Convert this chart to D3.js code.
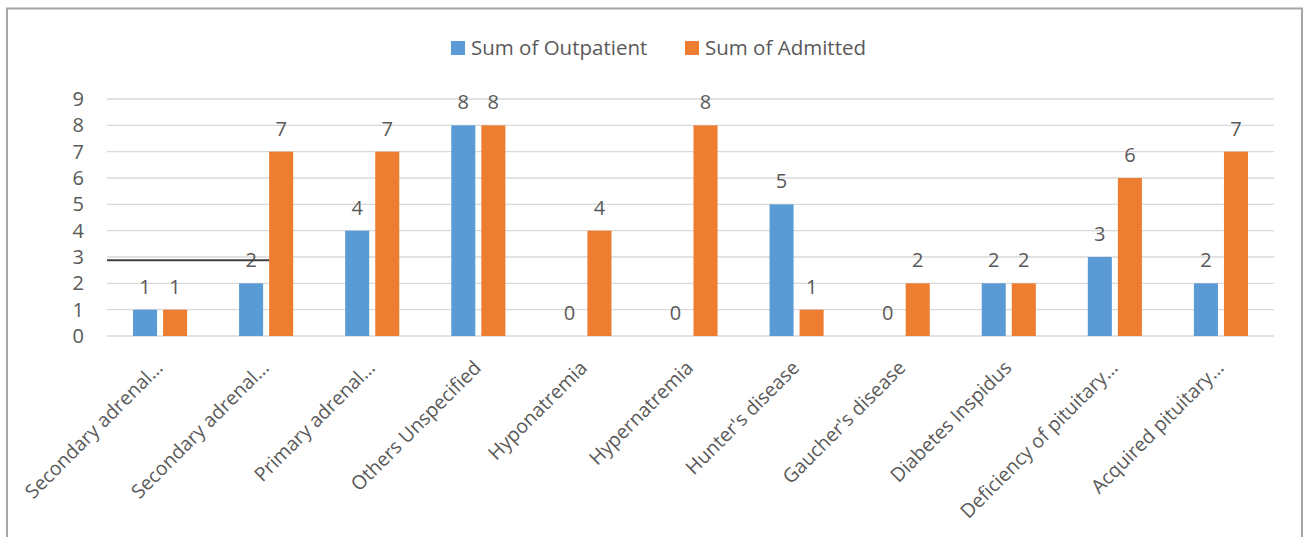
<!DOCTYPE html>
<html>
<head>
<meta charset="utf-8">
<script src="https://cdn.jsdelivr.net/npm/d3@7/dist/d3.min.js"></script>
<style>
  html, body { margin: 0; padding: 0; background: #fff; }
  svg { display: block; }
  text { font-family: "Open Sans", "Liberation Sans", sans-serif; fill: #595959; }
</style>
</head>
<body>
<svg id="chart" width="1305" height="537"></svg>
<script>
// ---- data ----
const categories = [
  "Secondary adrenal\u2026",
  "Secondary adrenal\u2026",
  "Primary adrenal\u2026",
  "Others Unspecified",
  "Hyponatremia",
  "Hypernatremia",
  "Hunter's disease",
  "Gaucher's disease",
  "Diabetes Inspidus",
  "Deficiency of pituitary\u2026",
  "Acquired pituitary\u2026"
];
const seriesNames = ["Sum of Outpatient", "Sum of Admitted"];
const outpatient = [1, 2, 4, 8, 0, 0, 5, 0, 2, 3, 2];
const admitted   = [1, 7, 7, 8, 4, 8, 1, 2, 2, 6, 7];
const yTicks = [0, 1, 2, 3, 4, 5, 6, 7, 8, 9];
const colors = ["#5b9bd5", "#ed7d31"];
// stray annotation line in the source picture (value level, from first category to second category's orange bar)
const strayLineValue = 2.88;

// ---- layout ----
const svg = d3.select("#chart");
const plot = { left: 107, right: 1274, top: 99, bottom: 336 };

const keys = categories.map((c, i) => i);
const x0 = d3.scaleBand().domain(keys).range([plot.left, plot.right])
  .paddingInner(0.49).paddingOuter(0.245);
const x1 = d3.scaleBand().domain([0, 1]).range([0, x0.bandwidth()]).paddingInner(0.2);
const y = d3.scaleLinear().domain([0, 9]).range([plot.bottom, plot.top]);

// frame
svg.append("rect").attr("x", 7).attr("y", 8.5).attr("width", 1295).attr("height", 540)
  .attr("fill", "none").attr("stroke", "#a6a6a6").attr("stroke-width", 2);

// gridlines
svg.append("g").selectAll("line").data(yTicks).join("line")
  .attr("x1", plot.left).attr("x2", plot.right)
  .attr("y1", d => y(d)).attr("y2", d => y(d))
  .attr("stroke", "#d9d9d9").attr("stroke-width", 1.4);

// y tick labels
svg.append("g").selectAll("text").data(yTicks).join("text")
  .attr("x", 84).attr("y", d => y(d) + 7)
  .attr("text-anchor", "end").attr("font-size", 20)
  .text(d => d);

// bars
const data = categories.map((c, i) => ({ i, vals: [outpatient[i], admitted[i]] }));
const groups = svg.append("g").selectAll("g").data(data).join("g")
  .attr("transform", d => `translate(${x0(d.i)},0)`);
groups.selectAll("rect").data(d => d.vals.map((v, s) => ({ v, s }))).join("rect")
  .attr("x", d => x1(d.s)).attr("width", x1.bandwidth())
  .attr("y", d => y(d.v)).attr("height", d => y(0) - y(d.v))
  .attr("fill", d => colors[d.s]);
groups.selectAll("text").data(d => d.vals.map((v, s) => ({ v, s }))).join("text")
  .attr("x", d => x1(d.s) + x1.bandwidth() / 2)
  .attr("y", d => y(d.v) - 16)
  .attr("text-anchor", "middle").attr("font-size", 20)
  .text(d => d.v);

// stray line
svg.append("line")
  .attr("x1", plot.left).attr("x2", x0(1) + x1(1))
  .attr("y1", y(strayLineValue)).attr("y2", y(strayLineValue))
  .attr("stroke", "#404040").attr("stroke-width", 2);

// x labels
svg.append("g").selectAll("text").data(data).join("text")
  .attr("transform", d => `translate(${x0(d.i) + x0.bandwidth() / 2 + 4},${plot.bottom + 33}) rotate(-45)`)
  .attr("text-anchor", "end").attr("font-size", 19.5)
  .text(d => categories[d.i]);

// legend
const legendX = [451, 685];
const lg = svg.append("g").selectAll("g").data(seriesNames).join("g")
  .attr("transform", (d, i) => `translate(${legendX[i]},41)`);
lg.append("rect").attr("width", 14).attr("height", 14).attr("fill", (d, i) => colors[i]);
lg.append("text").attr("x", 20).attr("y", 14).attr("font-size", 20.5).text(d => d);
</script>
</body>
</html>
